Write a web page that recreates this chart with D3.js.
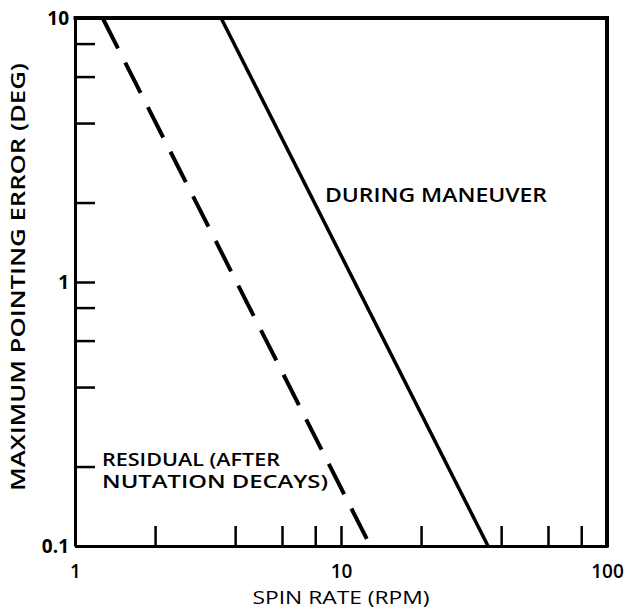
<!DOCTYPE html>
<html>
<head>
<meta charset="utf-8">
<script src="https://cdn.jsdelivr.net/npm/d3@7/dist/d3.min.js"></script>
<style>
  html, body { margin: 0; padding: 0; background: #fff; }
  svg { display: block; }
  text { font-family: "Open Sans", "DejaVu Sans", sans-serif; fill: #000; }
</style>
</head>
<body>
<svg id="chart" width="628" height="609"></svg>
<script>
// ---- data ----
const xTicks = [1, 2, 4, 6, 8, 10, 20, 40, 60, 80, 100];
const xTickLabels = ["1", "10", "100"];
const yTicks = [0.1, 0.2, 0.4, 0.6, 0.8, 1, 2, 4, 6, 8, 10];
const yTickLabels = ["0.1", "1", "10"];
const duringX = [3.54, 35.7];
const duringY = [10, 0.1];
const residualX = [1.27, 12.9];
const residualY = [10, 0.1];
const seriesNames = ["DURING MANEUVER", "RESIDUAL (AFTER", "NUTATION DECAYS)"];
const xTitle = "SPIN RATE (RPM)";
const yTitle = "MAXIMUM POINTING ERROR (DEG)";

const W = 628, H = 609;
const m = { left: 75, top: 18, right: 21, bottom: 63 };
const svg = d3.select("#chart");

const x = d3.scaleLog().domain([1, 100]).range([m.left, W - m.right]);
const y = d3.scaleLog().domain([0.1, 10]).range([H - m.bottom, m.top]);

const fmt = d => d < 1 ? "0.1" : String(d);

// axes
const xAxis = d3.axisBottom(x).tickValues(xTicks).tickSizeInner(-20).tickSizeOuter(0).tickPadding(19)
  .tickFormat(d => xTickLabels.includes(fmt(d)) ? fmt(d) : "");
const gx = svg.append("g").attr("transform", `translate(0,${H - m.bottom})`).call(xAxis);
gx.select(".domain").attr("stroke", "#000").attr("stroke-width", 3);
gx.selectAll(".tick line").attr("stroke", "#000").attr("stroke-width", 2.5);
gx.selectAll(".tick text").style("font-size", "19px").style("font-family", "Open Sans").style("font-weight", "600").attr("fill", "#000");

const yAxis = d3.axisLeft(y).tickValues(yTicks).tickSizeInner(-20).tickSizeOuter(0).tickPadding(6)
  .tickFormat(d => [0.1, 1, 10].includes(d) && yTickLabels.includes(fmt(d)) ? fmt(d) : "");
const gy = svg.append("g").attr("transform", `translate(${m.left},0)`).call(yAxis);
gy.select(".domain").attr("stroke", "#000").attr("stroke-width", 3);
gy.selectAll(".tick line").attr("stroke", "#000").attr("stroke-width", 2.5);
gy.selectAll(".tick text").style("font-size", "19px").style("font-family", "Open Sans").style("font-weight", "700").attr("fill", "#000");

// top and right frame
svg.append("line").attr("x1", x(1) - 1.5).attr("x2", x(100) + 2).attr("y1", y(10)).attr("y2", y(10))
  .attr("stroke", "#000").attr("stroke-width", 4);
svg.append("line").attr("x1", x(100)).attr("x2", x(100)).attr("y1", y(10) - 2).attr("y2", y(0.1) + 1.5)
  .attr("stroke", "#000").attr("stroke-width", 4);

// series lines
const line = d3.line().x(d => x(d[0])).y(d => y(d[1]));
svg.append("path").datum(d3.zip(duringX, duringY)).attr("d", line)
  .attr("fill", "none").attr("stroke", "#000").attr("stroke-width", 3.5);
svg.append("path").datum(d3.zip(residualX, residualY)).attr("d", line)
  .attr("fill", "none").attr("stroke", "#000").attr("stroke-width", 4)
  .attr("stroke-dasharray", "34,16");

// labels
function label(t, px, py, w, fs) {
  const el = svg.append("text").attr("x", px).attr("y", py).text(t)
    .style("font-size", (fs || 19) + "px").style("font-weight", "600");
  if (w) el.attr("textLength", w).attr("lengthAdjust", "spacingAndGlyphs");
  return el;
}
label(seriesNames[0], 325, 202, 222);
label(seriesNames[1], 102, 466, 178, 18);
label(seriesNames[2], 102, 488, 226, 18);

svg.append("text").attr("x", 341).attr("y", 604).attr("text-anchor", "middle").text(xTitle)
  .style("font-size", "19px").style("font-weight", "400").attr("textLength", 177).attr("lengthAdjust", "spacingAndGlyphs");
svg.append("text").attr("transform", "translate(25,277) rotate(-90)").attr("text-anchor", "middle").text(yTitle)
  .style("font-size", "19px").style("font-weight", "600").attr("textLength", 428).attr("lengthAdjust", "spacingAndGlyphs");
</script>
</body>
</html>
